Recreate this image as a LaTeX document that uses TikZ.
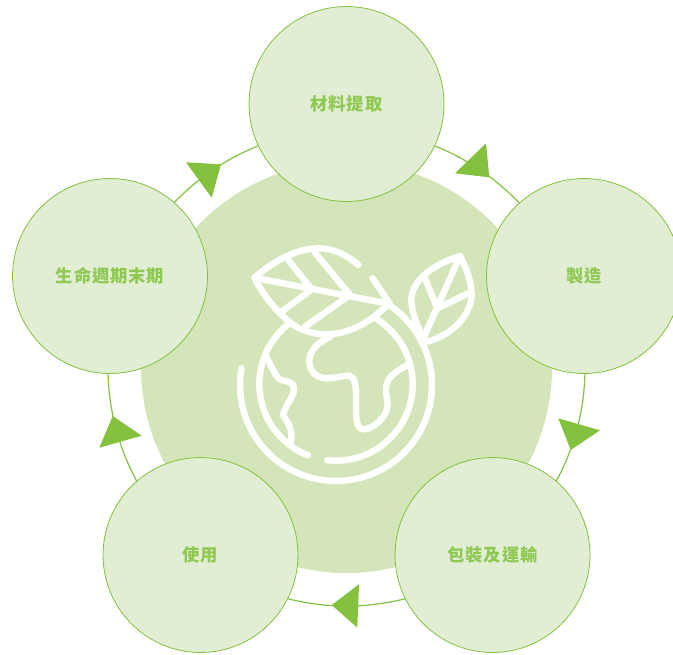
\documentclass[tikz,border=0pt]{standalone}
\usepackage{fontspec}
\newfontfamily\cjk{Noto Sans CJK TC}[LetterSpace=5]
\definecolor{ln}{HTML}{84C13F}
\definecolor{lt}{HTML}{E2EED4}
\definecolor{md}{HTML}{D4E6B9}
\definecolor{tx}{HTML}{8FC853}
\tikzset{
  stage/.style={circle,draw=ln,line width=0.6pt,fill=lt,minimum size=146.2pt,inner sep=0pt,text=tx,font=\cjk\bfseries\fontsize{13pt}{15pt}\selectfont},
  tri/.style={fill=ln,draw=none},
  ring/.style={draw=ln,line width=0.9pt},
  icon/.style={draw=white,line width=4.8pt,line cap=round,line join=round},
}
\begin{document}
\begin{tikzpicture}[x=0.75pt,y=-0.75pt]
\useasboundingbox (0,0) rectangle (673,654);
\begin{scope}
\clip (0,0) rectangle (673,654);
\node[circle,fill=md,minimum size=308.25pt,inner sep=0pt] (hub) at (346.5,367.5) {};
\draw[ring] (346.5,367.5) circle[radius=238.5];
\node[stage] (a) at (346.5,104) {材料提取};
\node[stage] (b) at (584,276) {製造};
\node[stage] (c) at (492.5,555) {包裝及運輸};
\node[stage] (d) at (200.5,555) {使用};
\node[stage] (e) at (110,276) {生命週期末期};
\fill[tri] (486,143.3) -- (455,173.3) -- (489.3,177.3) -- cycle;
\fill[tri] (558.3,418.3) -- (600,430.3) -- (570.7,450) -- cycle;
\fill[tri] (359,584.3) -- (331.7,605) -- (357.3,627.7) -- cycle;
\fill[tri] (112.7,416) -- (141.7,435.7) -- (99.3,447.7) -- cycle;
\fill[tri] (186,162.3) -- (221,164.3) -- (211.7,197.7) -- cycle;
\end{scope}
\begin{scope}[shift={(220,230)},x=0.25pt,y=-0.25pt]
% large leaf
\draw[icon] (415,105) .. controls (375,70) and (335,55) .. (298,55) .. controls (225,55) and (160,95) .. (103,143);
\draw[icon] (103,143) .. controls (135,205) and (175,250) .. (220,285) .. controls (300,335) and (410,320) .. (505,222);
\draw[icon] (103,143) -- (510,222) -- (458,145);
\draw[icon] (205,90) -- (275,178) -- (185,245);
\draw[icon] (285,68) -- (390,195) -- (255,290);
% globe
\draw[icon,line cap=round] plot[smooth,domain=190:-56,samples=70] ({348+288*cos(\x)},{465+288*sin(\x)});
\draw[icon] plot[smooth,domain=96.5:-59,samples=60] ({348+230*cos(\x)},{462+230*sin(\x)});
\draw[icon] plot[smooth,domain=111.5:231,samples=40] ({348+230*cos(\x)},{462+230*sin(\x)});
% continents
\draw[icon] (330,320) .. controls (295,338) and (268,360) .. (268,392) .. controls (268,425) and (290,445) .. (320,445) .. controls (345,445) and (365,437) .. (385,437) .. controls (410,440) and (408,480) .. (408,520) .. controls (408,565) and (408,598) .. (432,598) .. controls (458,598) and (503,560) .. (503,525) .. controls (503,500) and (490,480) .. (505,450) .. controls (515,432) and (540,418) .. (562,405);
\draw[icon] (138,380) .. controls (150,400) and (160,425) .. (175,445) .. controls (190,458) and (222,448) .. (222,478) .. controls (222,500) and (190,535) .. (190,555) .. controls (195,570) and (222,590) .. (212,642);
% small leaf
\draw[icon] (720,78) .. controls (650,100) and (575,145) .. (574,210) .. controls (574,250) and (595,290) .. (610,328);
\draw[icon] (720,78) .. controls (745,125) and (755,165) .. (755,195) .. controls (750,270) and (680,320) .. (622,335);
\draw[icon] (720,78) -- (610,325);
\draw[icon] (615,145) -- (652,235) -- (745,190);
\end{scope}
\end{tikzpicture}
\end{document}
